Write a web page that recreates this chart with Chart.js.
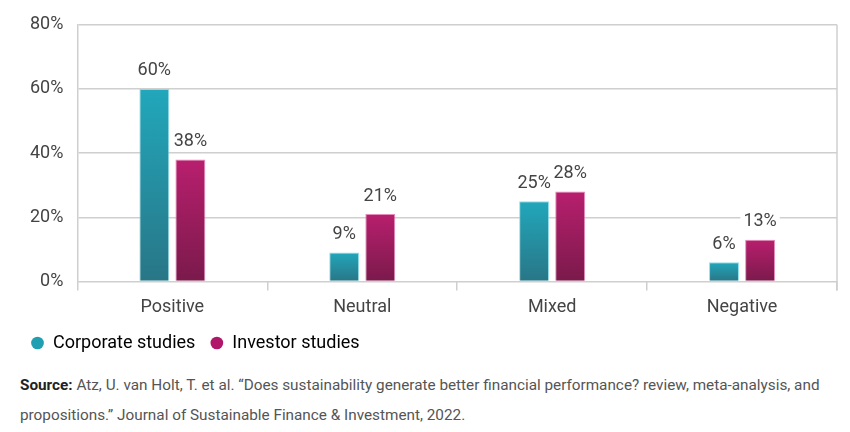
<!DOCTYPE html>
<html>
<head>
<meta charset="utf-8">
<script src="https://cdn.jsdelivr.net/npm/chart.js@4/dist/chart.umd.min.js"></script>
<style>
  body { margin: 0; background: #fff; font-family: Roboto, sans-serif; }
  #wrap { width: 850px; height: 362px; position: relative; }
  #source { margin: 0; padding: 8px 0 0 20px; font-size: 15.3px; line-height: 30px; color: #555; }
  #source b { color: #222; }
</style>
</head>
<body>
<div id="wrap"><canvas id="studyChart"></canvas></div>
<p id="source"><b>Source:</b> Atz, U. van Holt, T. et al. “Does sustainability generate better financial performance? review, meta-analysis, and<br>propositions.” Journal of Sustainable Finance &amp; Investment, 2022.</p>

<script>
// chart values
let categories = ['Positive', 'Neutral', 'Mixed', 'Negative'];
let corporateValues = [60, 9, 25, 6];
let investorValues = [38, 21, 28, 13];
let yTicks = [0, 20, 40, 60, 80];

//build a vertical gradient for every bar, light at top, dark at the bottom
function barGradient(top, bottom){
  return function(context){
    let chart = context.chart;
    if(!chart.chartArea || context.raw === undefined) return bottom;
    let yScale = chart.scales.y;
    let yTop = yScale.getPixelForValue(context.raw);
    let yBase = yScale.getPixelForValue(0);
    let grad = chart.ctx.createLinearGradient(0, yTop, 0, yBase);
    grad.addColorStop(0, top);
    grad.addColorStop(1, bottom);
    return grad;
  };
}

//value labels above bars with white background
let valueLabels = {
  id: 'valueLabels',
  afterDatasetsDraw(chart){
    let ctx = chart.ctx;
    ctx.save();
    ctx.font = '18px Roboto, sans-serif';
    ctx.textAlign = 'center';
    ctx.textBaseline = 'middle';
    chart.data.datasets.forEach(function(ds, i){
      chart.getDatasetMeta(i).data.forEach(function(bar, j){
        let txt = ds.data[j] + '%';
        let w = ctx.measureText(txt).width;
        let y = bar.y - 18;
        ctx.fillStyle = '#fff';
        ctx.fillRect(bar.x - w / 2 - 3, y - 10, w + 6, 20);
        ctx.fillStyle = '#444';
        ctx.fillText(txt, bar.x, y);
      });
    });
    ctx.restore();
  }
};

//right-hand frame line
let rightBorder = {
  id: 'rightBorder',
  beforeDatasetsDraw(chart){
    let a = chart.chartArea;
    let ctx = chart.ctx;
    ctx.save();
    ctx.strokeStyle = '#cfcfcf';
    ctx.lineWidth = 1.5;
    ctx.beginPath();
    ctx.moveTo(a.right, a.top);
    ctx.lineTo(a.right, a.bottom + 9);
    ctx.stroke();
    ctx.restore();
  }
};

let elChart = document.getElementById('studyChart').getContext('2d');
let studyChart = new Chart(elChart, {
  type: 'bar',
  data: {
    labels: categories,
    datasets: [{
      label: 'Corporate studies',
      data: corporateValues,
      backgroundColor: barGradient('#22a7bb', '#287686'),
      borderColor: 'rgba(120,215,230,0.8)',
      borderWidth: 1,
      categoryPercentage: 0.38,
      barPercentage: 0.83
    },
    {
      label: 'Investor studies',
      data: investorValues,
      backgroundColor: barGradient('#b81f6e', '#7a1a4b'),
      borderColor: 'rgba(225,110,170,0.8)',
      borderWidth: 1,
      categoryPercentage: 0.38,
      barPercentage: 0.83
    }]
  },
  plugins: [valueLabels, rightBorder],
  options: {
    responsive: true,
    maintainAspectRatio: false,
    animation: false,
    layout: { padding: { left: 16, right: 13, top: 22, bottom: 0 } },
    plugins: {
      tooltip: { enabled: false },
      legend: {
        position: 'bottom',
        align: 'start',
        labels: {
          usePointStyle: true,
          pointStyle: 'circle',
          boxWidth: 13,
          boxHeight: 9,
          padding: 15,
          color: '#333',
          font: { family: 'Roboto', size: 18 },
          generateLabels: function(chart){
            let cols = ['#1f9fb2', '#b0176a'];
            return chart.data.datasets.map(function(ds, i){
              return { text: ds.label, fillStyle: cols[i], strokeStyle: cols[i], lineWidth: 0, pointStyle: 'circle', datasetIndex: i };
            });
          }
        }
      }
    },
    scales: {
      x: {
        afterFit: function(axis){ axis.height -= 5; },
        grid: { drawOnChartArea: false, drawTicks: true, tickLength: 9, color: '#cfcfcf', lineWidth: 1.5 },
        border: { display: false },
        ticks: { color: '#444', font: { family: 'Roboto', size: 18 }, padding: 6 }
      },
      y: {
        min: 0,
        max: 80,
        afterBuildTicks: function(axis){ axis.ticks = yTicks.map(function(v){ return { value: v }; }); },
        grid: { color: '#cfcfcf', lineWidth: 1.5, drawTicks: false },
        border: { color: '#cfcfcf', width: 1.5 },
        ticks: { color: '#444', font: { family: 'Roboto', size: 18 }, padding: 14, callback: function(v){ return v + '%'; } }
      }
    }
  }
});
</script>
</body>
</html>
